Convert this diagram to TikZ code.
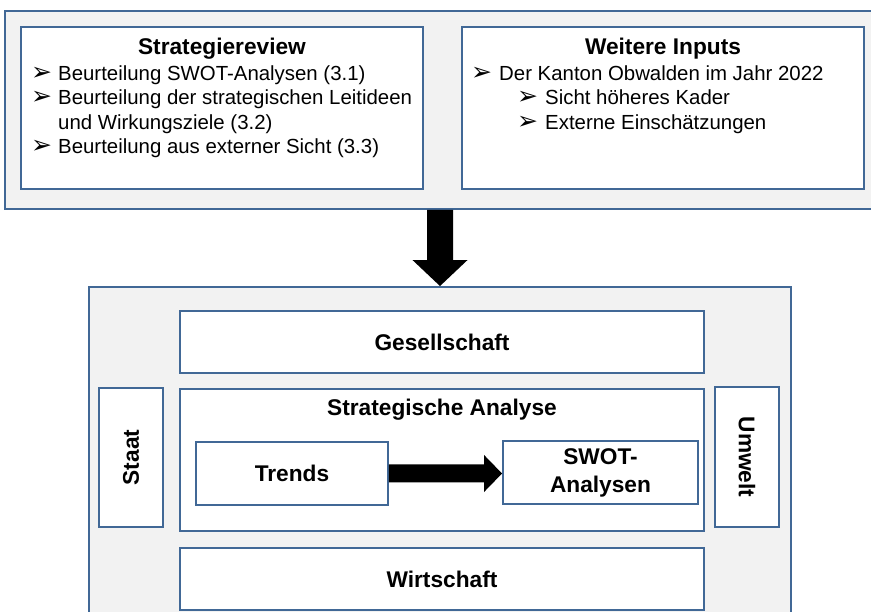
\documentclass[tikz,border=0pt]{standalone}
\usepackage{fontspec}
\setmainfont{Liberation Sans}
\newfontfamily\dejavu{DejaVu Sans}
\usetikzlibrary{calc}
\definecolor{bordc}{RGB}{65,104,150}
\definecolor{panel}{RGB}{242,242,242}
\newcommand{\mybul}{{\dejavu\fontsize{25}{25}\selectfont ➢}}
\begin{document}
\begin{tikzpicture}[x=1pt,y=-1pt,
  panelbox/.style={draw=bordc, line width=1.9pt, fill=panel, rectangle, inner sep=0pt},
  whitebox/.style={draw=bordc, line width=1.9pt, fill=white, rectangle, inner sep=0pt,
    font=\fontsize{22.7}{28}\selectfont\bfseries, align=center},
  titletext/.style={font=\fontsize{22.7}{28}\selectfont\bfseries, anchor=base, inner sep=0pt},
  itemtext/.style={font=\fontsize{20.4}{24}\selectfont, anchor=base west, inner sep=0pt},
  bullettext/.style={anchor=base west, inner sep=0pt},
  blockarrow/.style={fill=black, draw=none}]
\useasboundingbox (0,0) rectangle (871,612);
\clip (0,0) rectangle (871,612);
\fill[white] (0,0) rectangle (871,612);

% top panel
\node[panelbox, minimum width=875pt, minimum height=198pt] (topouter) at (442.5,110) {};
\node[whitebox, minimum width=402pt, minimum height=162pt] (review) at (222,108) {};
\node[whitebox, minimum width=402pt, minimum height=162pt] (inputs) at (663,108) {};

\node[titletext] (reviewtitle) at (222,55) {Strategiereview};
\node[bullettext] (lb1) at (31,81) {\mybul};
\node[itemtext] (lt1) at (58,81) {Beurteilung SWOT-Analysen (3.1)};
\node[bullettext] (lb2) at (31,105) {\mybul};
\node[itemtext] (lt2) at (58,105) {Beurteilung der strategischen Leitideen};
\node[itemtext] (lt2b) at (58,129.5) {und Wirkungsziele (3.2)};
\node[bullettext] (lb3) at (31,154) {\mybul};
\node[itemtext] (lt3) at (58,154) {Beurteilung aus externer Sicht (3.3)};

\node[titletext] (inputstitle) at (663,55) {Weitere Inputs};
\node[bullettext] (rb1) at (471,81) {\mybul};
\node[itemtext] (rt1) at (499,81) {Der Kanton Obwalden im Jahr 2022};
\node[bullettext] (rb2) at (517,105) {\mybul};
\node[itemtext] (rt2) at (545,105) {Sicht höheres Kader};
\node[bullettext] (rb3) at (517,129.5) {\mybul};
\node[itemtext] (rt3) at (545,129.5) {Externe Einschätzungen};

% bottom panel
\node[panelbox, minimum width=702pt, minimum height=343pt] (bottomouter) at (440,458.5) {};
\node[whitebox, minimum width=524pt, minimum height=62pt] (gesell) at (442,342) {Gesellschaft};
\node[whitebox, minimum width=524pt, minimum height=142pt] (sa) at (442,460) {};
\node[titletext] (satitle) at (442,416) {Strategische Analyse};
\node[whitebox, minimum width=524pt, minimum height=62pt] (wirt) at (442,579) {Wirtschaft};
\node[whitebox, minimum width=64pt, minimum height=139pt] (staat) at (131,457.5) {\rotatebox{90}{Staat}};
\node[whitebox, minimum width=64pt, minimum height=140pt] (umwelt) at (747,457) {\rotatebox{-90}{Umwelt}};
\node[whitebox, minimum width=192pt, minimum height=63pt] (trends) at (292,473.5) {Trends};
\node[whitebox, minimum width=195pt, minimum height=63pt] (swot) at (600.5,472.5) {SWOT-\\Analysen};

% down block arrow
\coordinate (dA) at (bottomouter.north |- topouter.south);
\coordinate (dB) at (bottomouter.north);
\fill[blockarrow] ($(dA)+(-13,0)$) -- ($(dB)+(-13,-26)$) -- ($(dB)+(-27.5,-26)$) -- (dB)
  -- ($(dB)+(27.5,-26)$) -- ($(dB)+(13,-26)$) -- ($(dA)+(13,0)$) -- cycle;

% right block arrow
\coordinate (rA) at (trends.east);
\coordinate (rB) at (swot.west |- trends.east);
\fill[blockarrow] ($(rA)+(0,-9)$) -- ($(rB)+(-18,-9)$) -- ($(rB)+(-18,-18.5)$) -- (rB)
  -- ($(rB)+(-18,18.5)$) -- ($(rB)+(-18,9)$) -- ($(rA)+(0,9)$) -- cycle;
\end{tikzpicture}
\end{document}
